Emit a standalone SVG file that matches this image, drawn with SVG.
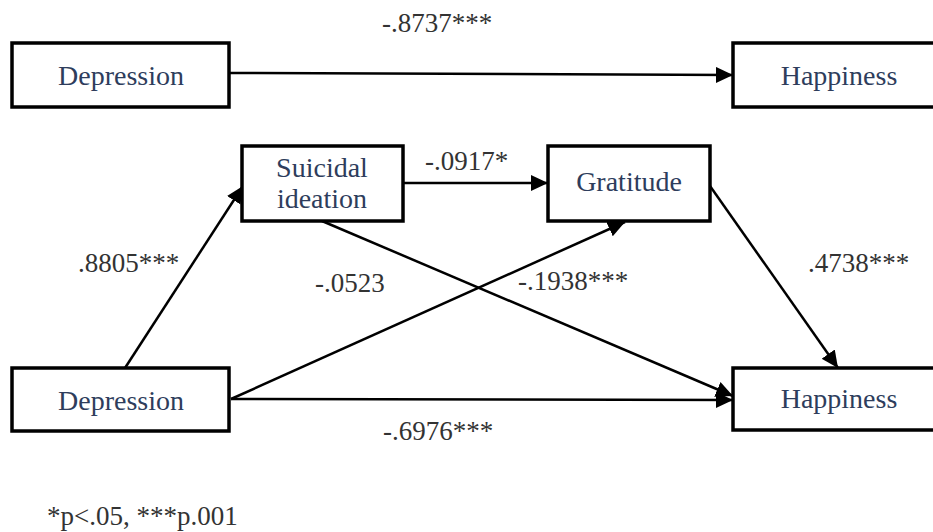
<svg xmlns="http://www.w3.org/2000/svg" width="933" height="532" viewBox="0 0 933 532">
<defs>
<style>
.box{fill:#fff;stroke:#000;stroke-width:3.5}
.nt{font-size:28px;fill:#2e3d5c;text-anchor:middle}
.lb{font-size:27px;fill:#333}
.ln{stroke:#000;stroke-width:2.5;fill:none;marker-end:url(#ah)}
</style>
<marker id="ah" markerUnits="userSpaceOnUse" markerWidth="20" markerHeight="18" refX="17" refY="8" orient="auto">
<path d="M0,0 L17,8 L0,16 Z" fill="#000"/>
</marker>
</defs>
<rect width="933" height="532" fill="#fff"/>
<g id="connectors">
<line class="ln" x1="229" y1="73" x2="733" y2="75"/>
<line class="ln" x1="403" y1="183" x2="548" y2="183"/>
<line class="ln" x1="125" y1="368" x2="243" y2="186"/>
<line class="ln" x1="231" y1="399" x2="625" y2="222"/>
<line class="ln" x1="322" y1="221" x2="733" y2="396"/>
<line class="ln" x1="710" y1="186" x2="838" y2="368"/>
<line class="ln" x1="231" y1="399" x2="733" y2="400"/>
</g>
<g font-family="Liberation Serif, Times New Roman, DejaVu Serif, serif">
<g id="dep-top"><rect class="box" x="12" y="43" width="217" height="64"/><text class="nt" x="121" y="85">Depression</text></g>
<g id="hap-top"><rect class="box" x="733" y="43" width="210" height="64"/><text class="nt" x="839" y="85">Happiness</text></g>
<g id="suicidal"><rect class="box" x="242" y="146" width="161" height="75"/><text class="nt" x="322" y="177">Suicidal</text><text class="nt" x="322" y="208">ideation</text></g>
<g id="gratitude"><rect class="box" x="548" y="146" width="162" height="75"/><text class="nt" x="629" y="191">Gratitude</text></g>
<g id="dep-bot"><rect class="box" x="12" y="368" width="217" height="63"/><text class="nt" x="121" y="410">Depression</text></g>
<g id="hap-bot"><rect class="box" x="733" y="368" width="210" height="62"/><text class="nt" x="839" y="408">Happiness</text></g>
<g id="labels">
<text class="lb" x="382" y="32">-.8737***</text>
<text class="lb" x="425" y="170">-.0917*</text>
<text class="lb" x="78" y="272">.8805***</text>
<text class="lb" x="315" y="292">-.0523</text>
<text class="lb" x="518" y="290">-.1938***</text>
<text class="lb" x="808" y="272">.4738***</text>
<text class="lb" x="383" y="440">-.6976***</text>
<text class="lb" x="47" y="525">*p&lt;.05, ***p.001</text>
</g>
</g>
</svg>
